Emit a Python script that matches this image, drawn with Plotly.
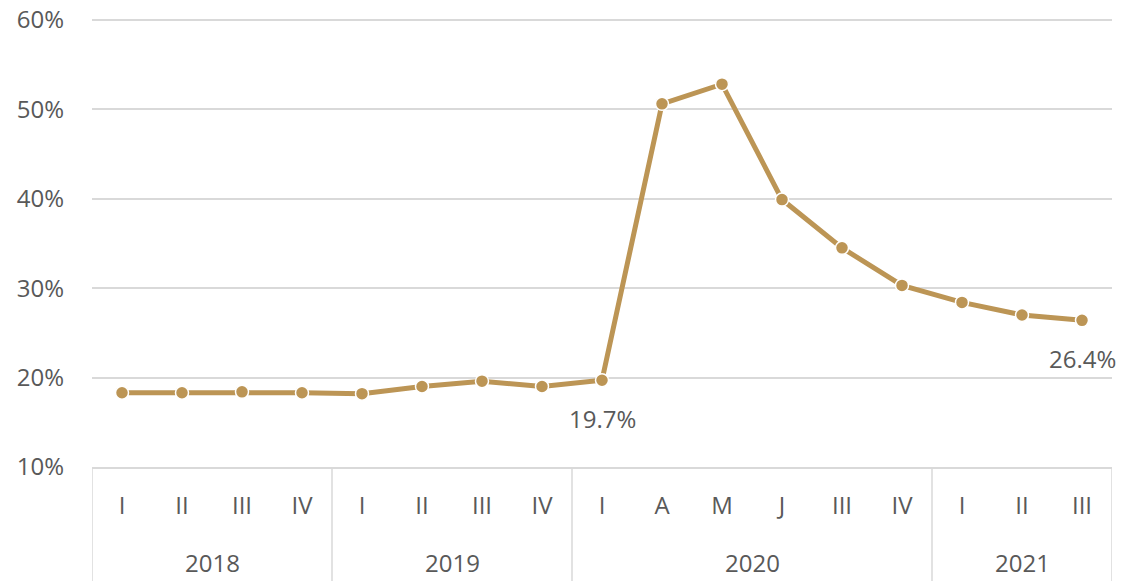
import plotly.graph_objects as go

years = ["2018"] * 4 + ["2019"] * 4 + ["2020"] * 6 + ["2021"] * 3
periods = ["I", "II", "III", "IV", "I", "II", "III", "IV",
           "I", "A", "M", "J", "III", "IV", "I", "II", "III"]
values = [18.3, 18.3, 18.4, 18.3, 18.2, 19.0, 19.6, 19.0,
          19.7, 50.6, 52.8, 39.9, 34.5, 30.3, 28.4, 27.0, 26.4]
labeled_idx = [8, 16]
y_ticks = [10, 20, 30, 40, 50, 60]

line_color = "#BC9555"
text_color = "#595959"
grid_color = "#D9D9D9"
font_family = "Open Sans"
font_size = 24

# page body adds an 8px offset; size the figure so it fills the window
W, H = 1117, 573
M = dict(l=84, r=13, t=10, b=114)
plot_h = H - M["t"] - M["b"]

n = len(values)
xs = list(range(n))

fig = go.Figure()
fig.add_trace(go.Scatter(
    x=xs, y=values,
    mode="lines+markers",
    line=dict(color=line_color, width=5),
    marker=dict(color=line_color, size=13, line=dict(color="white", width=1.5)),
    hoverinfo="skip",
))

for i in labeled_idx:
    fig.add_annotation(
        x=i, y=values[i], xref="x", yref="y",
        text=f"{values[i]:.1f}%", showarrow=False, yshift=-38,
        font=dict(family=font_family, size=font_size, color=text_color),
    )

# year groups: labels centred under each group, dividers at group edges
groups = []
for i, yv in enumerate(years):
    if groups and groups[-1][0] == yv:
        groups[-1][2] = i
    else:
        groups.append([yv, i, i])

bottom = -(M["b"] + 2) / plot_h
boundaries = [g[1] - 0.5 for g in groups] + [groups[-1][2] + 0.5]
for b in boundaries:
    fig.add_shape(type="line", xref="x", yref="paper",
                  x0=b, x1=b, y0=0, y1=bottom,
                  line=dict(color=grid_color, width=1.5))
for yv, s, e in groups:
    fig.add_annotation(
        x=(s + e) / 2, y=-95 / plot_h, xref="x", yref="paper",
        text=yv, showarrow=False, yanchor="middle",
        font=dict(family=font_family, size=font_size, color=text_color),
    )

fig.update_layout(
    width=W, height=H,
    margin=M,
    plot_bgcolor="white", paper_bgcolor="white",
    showlegend=False,
    font=dict(family=font_family, size=font_size, color=text_color),
)
fig.update_yaxes(
    range=[y_ticks[0], y_ticks[-1] + 0.2],
    tickmode="array", tickvals=y_ticks, ticktext=[f"{v}%" for v in y_ticks],
    showgrid=True, gridcolor=grid_color, gridwidth=1.5,
    zeroline=False, showline=False, automargin=False,
    ticklabeloverflow="allow",
    ticklabelstandoff=27,
    tickfont=dict(family=font_family, size=font_size, color=text_color),
)
fig.update_xaxes(
    range=[-0.5, n - 0.5],
    tickmode="array", tickvals=xs, ticktext=periods,
    showline=True, linecolor=grid_color, linewidth=1.5,
    showgrid=False, zeroline=False, ticks="", automargin=False,
    ticklabelstandoff=16,
    tickfont=dict(family=font_family, size=font_size, color=text_color),
)

fig.write_html("out.html")
